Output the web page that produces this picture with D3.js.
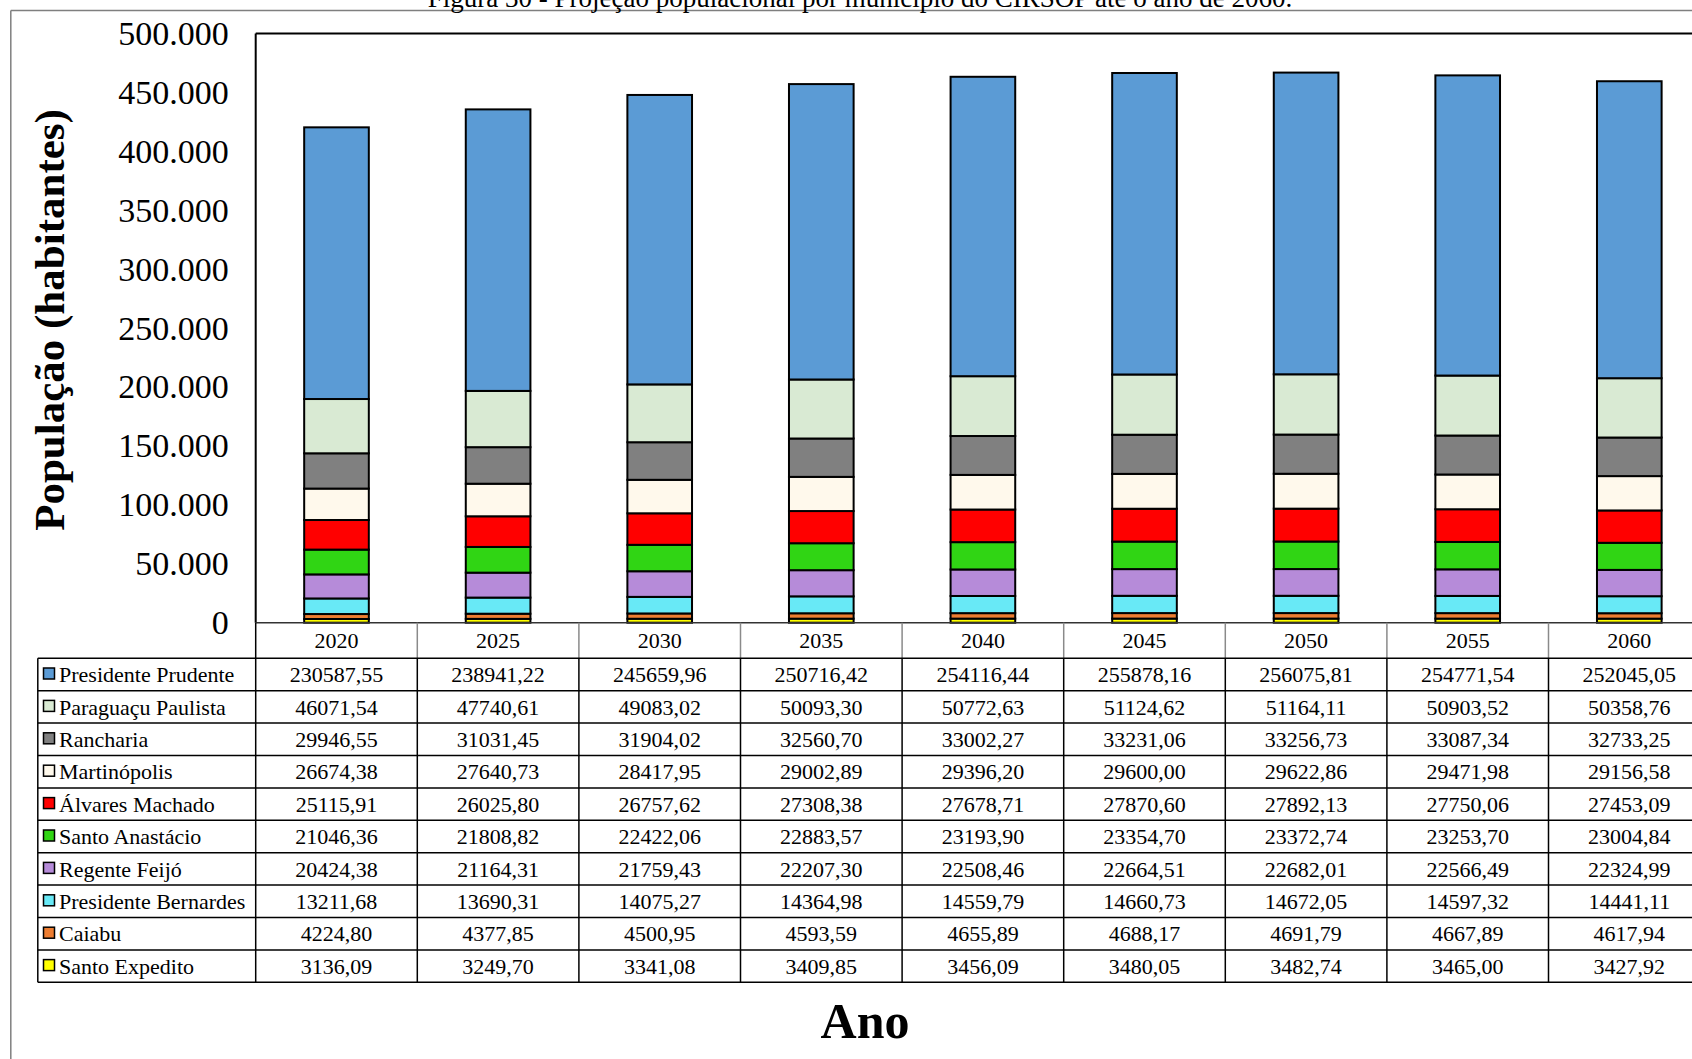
<!DOCTYPE html>
<html>
<head>
<meta charset="utf-8">
<script src="https://cdn.jsdelivr.net/npm/d3@7"></script>
<style>
  html, body { margin: 0; padding: 0; background: #fff; }
  svg { display: block; font-family: "Liberation Serif", "Times New Roman", serif; }
</style>
</head>
<body>
<svg id="chart" width="1692" height="1059"></svg>
<script>
// Projected population per municipality, 2020–2060
const years = ["2020", "2025", "2030", "2035", "2040", "2045", "2050", "2055", "2060"];

const municipios = [
  "Presidente Prudente", "Paraguaçu Paulista", "Rancharia", "Martinópolis",
  "Álvares Machado", "Santo Anastácio", "Regente Feijó", "Presidente Bernardes",
  "Caiabu", "Santo Expedito"
];

const corMunicipio = [
  "#5B9BD5", "#D9EAD3", "#808080", "#FFF9EC", "#FF0000",
  "#30D514", "#B68BD9", "#68E9F6", "#ED7D31", "#FFFF00"
];

const presidentePrudente  = [230587.55, 238941.22, 245659.96, 250716.42, 254116.44, 255878.16, 256075.81, 254771.54, 252045.05];
const paraguacuPaulista   = [46071.54, 47740.61, 49083.02, 50093.30, 50772.63, 51124.62, 51164.11, 50903.52, 50358.76];
const rancharia           = [29946.55, 31031.45, 31904.02, 32560.70, 33002.27, 33231.06, 33256.73, 33087.34, 32733.25];
const martinopolis        = [26674.38, 27640.73, 28417.95, 29002.89, 29396.20, 29600.00, 29622.86, 29471.98, 29156.58];
const alvaresMachado      = [25115.91, 26025.80, 26757.62, 27308.38, 27678.71, 27870.60, 27892.13, 27750.06, 27453.09];
const santoAnastacio      = [21046.36, 21808.82, 22422.06, 22883.57, 23193.90, 23354.70, 23372.74, 23253.70, 23004.84];
const regenteFeijo        = [20424.38, 21164.31, 21759.43, 22207.30, 22508.46, 22664.51, 22682.01, 22566.49, 22324.99];
const presidenteBernardes = [13211.68, 13690.31, 14075.27, 14364.98, 14559.79, 14660.73, 14672.05, 14597.32, 14441.11];
const caiabu              = [4224.80, 4377.85, 4500.95, 4593.59, 4655.89, 4688.17, 4691.79, 4667.89, 4617.94];
const santoExpedito       = [3136.09, 3249.70, 3341.08, 3409.85, 3456.09, 3480.05, 3482.74, 3465.00, 3427.92];

const yTicks = [0, 50000, 100000, 150000, 200000, 250000, 300000, 350000, 400000, 450000, 500000];

const titulo = "Figura 30 - Projeção populacional por município do CIRSOP até o ano de 2060.";
const tituloY = "População (habitantes)";
const tituloX = "Ano";

// ---- build table rows for the stack ----
const valores = [
  presidentePrudente, paraguacuPaulista, rancharia, martinopolis, alvaresMachado,
  santoAnastacio, regenteFeijo, presidenteBernardes, caiabu, santoExpedito
];
const linhas = years.map((ano, i) => {
  const o = { ano };
  municipios.forEach((m, k) => { o[m] = valores[k][i]; });
  return o;
});

const ptBR = d3.formatLocale({ decimal: ",", thousands: ".", grouping: [3], currency: ["R$", ""] });
const fmtEixo = ptBR.format(",.0f");
const fmtTabela = ptBR.format(".2f");

// ---- layout ----
const W = 1692, H = 1059;
const plotLeft = 255.7, step = 161.6;
const plotRight = plotLeft + step * years.length;
const plotTop = 33.6, plotBottom = 622.7;
const tableLeft = 37.8, headerBottom = 658.3, tableBottom = 982.3;

const svg = d3.select("#chart");
svg.append("rect").attr("width", W).attr("height", H).attr("fill", "#fff");

const xCol = d3.scaleBand().domain(years).range([plotLeft, plotRight]).padding(0);
const xBar = d3.scaleBand().domain(years).range([plotLeft, plotRight]).paddingInner(0.6).paddingOuter(0.3);
const y = d3.scaleLinear().domain([0, 500000]).range([plotBottom, plotTop]);
const cor = d3.scaleOrdinal().domain(municipios).range(corMunicipio);
const yRow = d3.scaleBand().domain(municipios).range([headerBottom, tableBottom]);

// outer frame
svg.append("line").attr("x1", 10.8).attr("x2", W).attr("y1", 10.5).attr("y2", 10.5)
  .attr("stroke", "#7f7f7f").attr("stroke-width", 1.5);
svg.append("line").attr("x1", 10.8).attr("x2", 10.8).attr("y1", 10.5).attr("y2", H)
  .attr("stroke", "#7f7f7f").attr("stroke-width", 1.5);

// caption
svg.append("text").attr("x", 860).attr("y", 7).attr("text-anchor", "middle")
  .attr("font-size", 27).attr("fill", "#000").text(titulo);

// stacked bars (bottom: last municipality in the list)
const pilha = d3.stack().keys(municipios.slice().reverse())(linhas);
svg.append("g").selectAll("g").data(pilha).join("g")
  .attr("fill", d => cor(d.key))
  .selectAll("rect").data(d => d).join("rect")
  .attr("x", d => xBar(d.data.ano))
  .attr("width", xBar.bandwidth())
  .attr("y", d => y(d[1]))
  .attr("height", d => y(d[0]) - y(d[1]))
  .attr("stroke", "#000").attr("stroke-width", 2);

// plot frame: top and left edges, baseline
svg.append("line").attr("x1", plotLeft).attr("x2", W).attr("y1", plotTop).attr("y2", plotTop)
  .attr("stroke", "#000").attr("stroke-width", 2);
svg.append("line").attr("x1", plotLeft).attr("x2", plotLeft).attr("y1", plotTop).attr("y2", plotBottom)
  .attr("stroke", "#000").attr("stroke-width", 2);
svg.append("line").attr("x1", plotLeft).attr("x2", W).attr("y1", plotBottom).attr("y2", plotBottom)
  .attr("stroke", "#333").attr("stroke-width", 1.5);

// y axis labels
const eixoY = d3.axisLeft(y).tickValues(yTicks).tickSize(0).tickPadding(27).tickFormat(fmtEixo);
const gy = svg.append("g").attr("transform", `translate(${plotLeft},0)`).call(eixoY);
gy.select(".domain").remove();
gy.selectAll("text").attr("font-size", 34).attr("font-family", "Liberation Serif").attr("fill", "#000");

// y title
svg.append("text")
  .attr("transform", "translate(64,320) rotate(-90)")
  .attr("text-anchor", "middle").attr("font-weight", "bold").attr("font-size", 43)
  .attr("fill", "#000").text(tituloY);

// ---- data table ----
const tabela = svg.append("g");

// year header
tabela.selectAll("text.ano").data(years).join("text").attr("class", "ano")
  .attr("x", d => xCol(d) + xCol.bandwidth() / 2)
  .attr("y", (plotBottom + headerBottom) / 2)
  .attr("dy", "0.35em").attr("text-anchor", "middle").attr("font-size", 22).attr("fill", "#000")
  .text(d => d);
tabela.selectAll("line.vh").data(years.slice(1)).join("line").attr("class", "vh")
  .attr("x1", d => xCol(d)).attr("x2", d => xCol(d))
  .attr("y1", plotBottom).attr("y2", headerBottom)
  .attr("stroke", "#8a8a8a").attr("stroke-width", 1.5);

// horizontal rules
const bordas = municipios.map(m => yRow(m)).concat([tableBottom]);
tabela.selectAll("line.h").data(bordas).join("line").attr("class", "h")
  .attr("x1", tableLeft).attr("x2", W).attr("y1", d => d).attr("y2", d => d)
  .attr("stroke", "#000").attr("stroke-width", 1.5);

// vertical rules
const colunas = [tableLeft].concat(years.map(a => xCol(a)));
tabela.selectAll("line.v").data(colunas).join("line").attr("class", "v")
  .attr("x1", d => d).attr("x2", d => d)
  .attr("y1", (d, i) => i === 1 ? plotBottom : headerBottom).attr("y2", tableBottom)
  .attr("stroke", "#000").attr("stroke-width", 1.5);

// legend keys and names
const legenda = tabela.selectAll("g.leg").data(municipios).join("g").attr("class", "leg")
  .attr("transform", m => `translate(0,${yRow(m) + yRow.bandwidth() / 2})`);
legenda.append("rect").attr("x", 43.5).attr("y", -6.5).attr("width", 11).attr("height", 11)
  .attr("fill", m => cor(m)).attr("stroke", "#000").attr("stroke-width", 1.5);
legenda.append("text").attr("x", 59).attr("dy", "0.35em").attr("font-size", 22).attr("fill", "#000")
  .text(m => m);

// values
municipios.forEach((m, k) => {
  tabela.append("g").selectAll("text").data(years).join("text")
    .attr("x", a => xCol(a) + xCol.bandwidth() / 2)
    .attr("y", yRow(m) + yRow.bandwidth() / 2)
    .attr("dy", "0.35em").attr("text-anchor", "middle").attr("font-size", 22).attr("fill", "#000")
    .text((a, i) => fmtTabela(valores[k][i]));
});

// x title
svg.append("text").attr("x", 865).attr("y", 1038).attr("text-anchor", "middle")
  .attr("font-weight", "bold").attr("font-size", 50).attr("fill", "#000").text(tituloX);
</script>
</body>
</html>
